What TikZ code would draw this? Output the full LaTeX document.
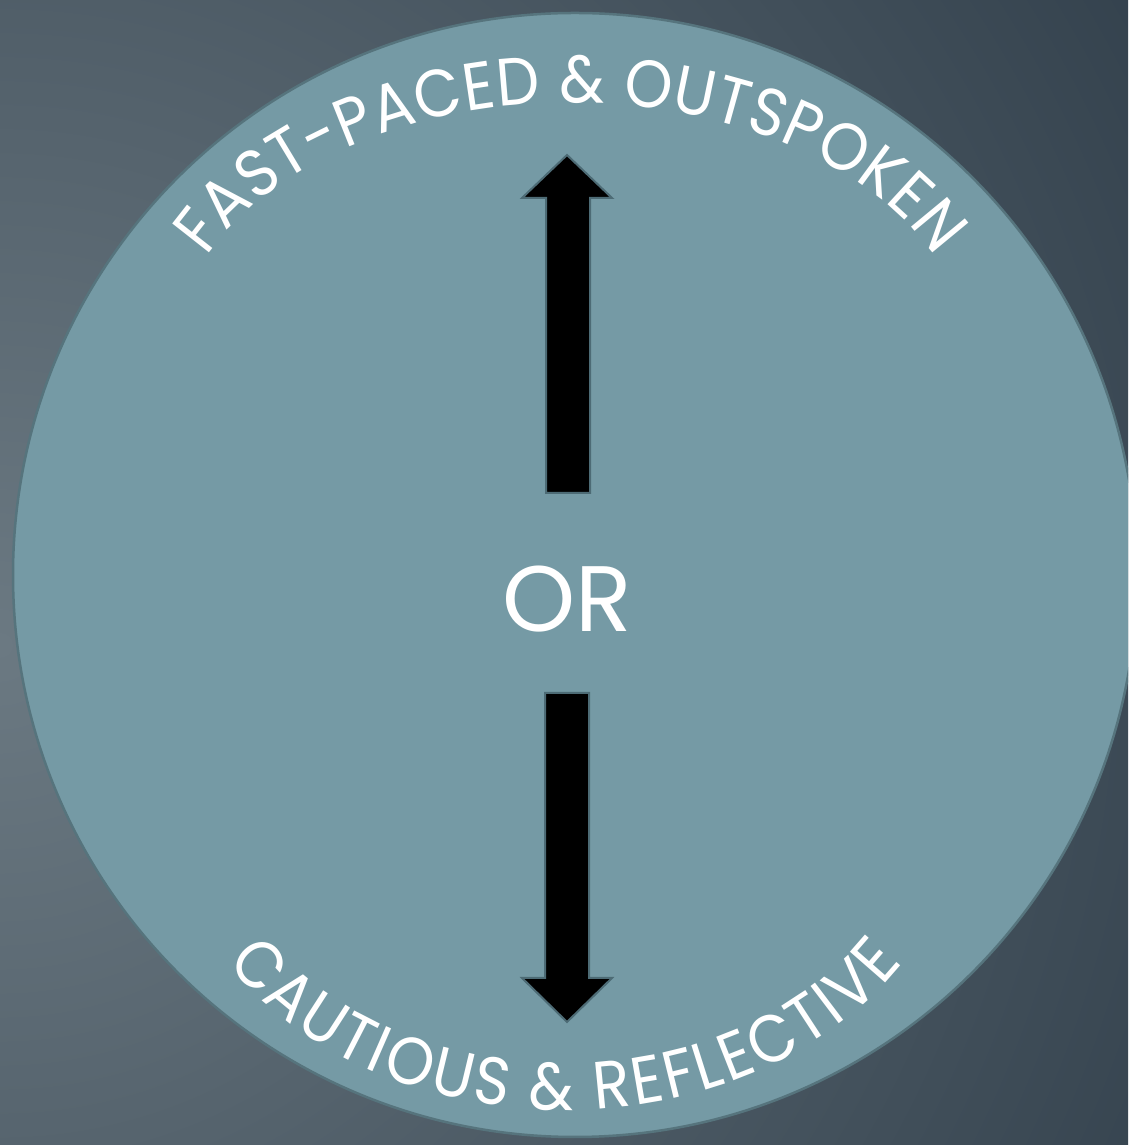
\documentclass[tikz,border=0pt]{standalone}
\usepackage{fontspec}
\setmainfont{Poppins}
\newfontfamily\arcfam{Poppins}[FakeStretch=0.91]
\definecolor{bgin}{HTML}{6B7982}
\definecolor{bgout}{HTML}{2C3A46}
\definecolor{disc}{HTML}{759AA5}
\definecolor{discedge}{HTML}{56747D}
\definecolor{arrowedge}{HTML}{4D6B75}
\pgfdeclareradialshading{bgshade}{\pgfpoint{0bp}{0bp}}{color(0bp)=(bgin); color(27bp)=(bgout); color(50bp)=(bgout)}
\newcommand\arcfont{\arcfam\fontsize{67}{70}\selectfont}
\newlength\chtot
% measure letters outside the picture: #1 prefix, #2 list, #3 count, #4 target length (pt)
\newcommand\measureword[4]{%
  \global\chtot=0pt
  \foreach \ch [count=\i] in {#2}{%
    \setbox0=\hbox{\arcfont\ch}%
    \expandafter\xdef\csname wd#1\i\endcsname{\the\wd0}%
    \global\advance\chtot by\wd0
  }%
  \pgfmathsetmacro\trk{(#4 - \chtot)/(#3-1)}%
  \global\chtot=0pt
  \foreach \i in {1,...,#3}{%
    \expandafter\xdef\csname cum#1\i\endcsname{\the\chtot}%
    \global\advance\chtot by \csname wd#1\i\endcsname
    \global\advance\chtot by \trk pt
  }%
  \expandafter\xdef\csname tot#1\endcsname{#4}%
}
% walk along ellipse: #1 a, #2 b, #3 start angle, #4 signed step (deg), #5 distance -> \tres
\newcommand\findt[5]{%
  \def\tcur{#3}\def\scur{0}\def\dsl{1}%
  \loop
    \pgfmathsetmacro\tnext{\tcur + #4}%
    \pgfmathsetmacro\tmid{\tcur + 0.5*#4}%
    \pgfmathsetmacro\dsl{100*sqrt((#1/100*sin(\tmid))^2 + (#2/100*cos(\tmid))^2)*abs(#4)*0.01745329}%
    \pgfmathsetmacro\snext{\scur + \dsl}%
    \pgfmathtruncatemacro\cond{\snext < #5 ? 1 : 0}%
  \ifnum\cond=1
    \let\tcur\tnext \let\scur\snext
  \repeat
  \pgfmathsetmacro\tres{\tcur + #4*(#5 - \scur)/\dsl}%
}
\tikzset{
  bigarrow/.style={fill=black, draw=arrowedge, line width=2pt, line join=miter},
  discstyle/.style={circle, fill=disc, draw=discedge, line width=2.5pt, minimum size=1124pt, inner sep=0pt},
  arcletter/.style={text=white, anchor=base, inner sep=0pt, font=\arcfont},
}
% #1 prefix, #2 cx, #3 cy, #4 a, #5 b, #6 mid angle, #7 dir (+1 ccw / -1 cw), #8 letters
\newcommand\ellword[8]{%
  \foreach \ch [count=\i] in {#8}{%
    \pgfmathsetmacro\dd{\csname cum#1\i\endcsname + 0.5*\csname wd#1\i\endcsname - 0.5*\csname tot#1\endcsname}%
    \pgfmathsetmacro\stp{(\dd < 0 ? -1 : 1)*(#7)}%
    \pgfmathsetmacro\dabs{abs(\dd)}%
    \findt{#4}{#5}{#6}{\stp}{\dabs}%
    \pgfmathsetmacro\px{#2 + #4*cos(\tres)}%
    \pgfmathsetmacro\py{#3 + #5*sin(\tres)}%
    \pgfmathsetmacro\rot{atan2((#7)*#5*cos(\tres), -(#7)*#4*sin(\tres))}%
    \node[arcletter, rotate=\rot] (#1\i) at (\px,\py) {\ch};
  }%
}
\begin{document}
\measureword{top}{F,A,S,T,-,P,A,C,E,D,~,\&,~,O,U,T,S,P,O,K,E,N}{22}{820}
\measureword{bot}{C,A,U,T,I,O,U,S,~,\&,~,R,E,F,L,E,C,T,I,V,E}{21}{762}
\begin{tikzpicture}[x=1pt,y=1pt]
\useasboundingbox (0,0) rectangle (1128,1145);
\clip (0,0) rectangle (1128,1145);
% background
\shade[shading=bgshade] (0,500) circle[radius=1400pt];
% disc
\node[discstyle] (disc) at (575,570) {};
% top arrow
\draw[bigarrow] (546,652) -- (546,947) -- (522,947) -- (567,990) -- (612,947) -- (590,947) -- (590,652) -- cycle;
% bottom arrow
\draw[bigarrow] (545,452) -- (545,167) -- (522,167) -- (567,123) -- (612,167) -- (589,167) -- (589,452) -- cycle;
% OR
\node[font=\fontsize{93}{100}\selectfont, text=white, anchor=base, inner sep=0pt] (or) at (567,513) {OR};
% arc texts
\ellword{top}{571}{782}{399}{260}{90}{-1}{F,A,S,T,-,P,A,C,E,D,~,\&,~,O,U,T,S,P,O,K,E,N}
\ellword{bot}{565}{345}{397}{310}{270}{1}{C,A,U,T,I,O,U,S,~,\&,~,R,E,F,L,E,C,T,I,V,E}
\end{tikzpicture}
\end{document}
